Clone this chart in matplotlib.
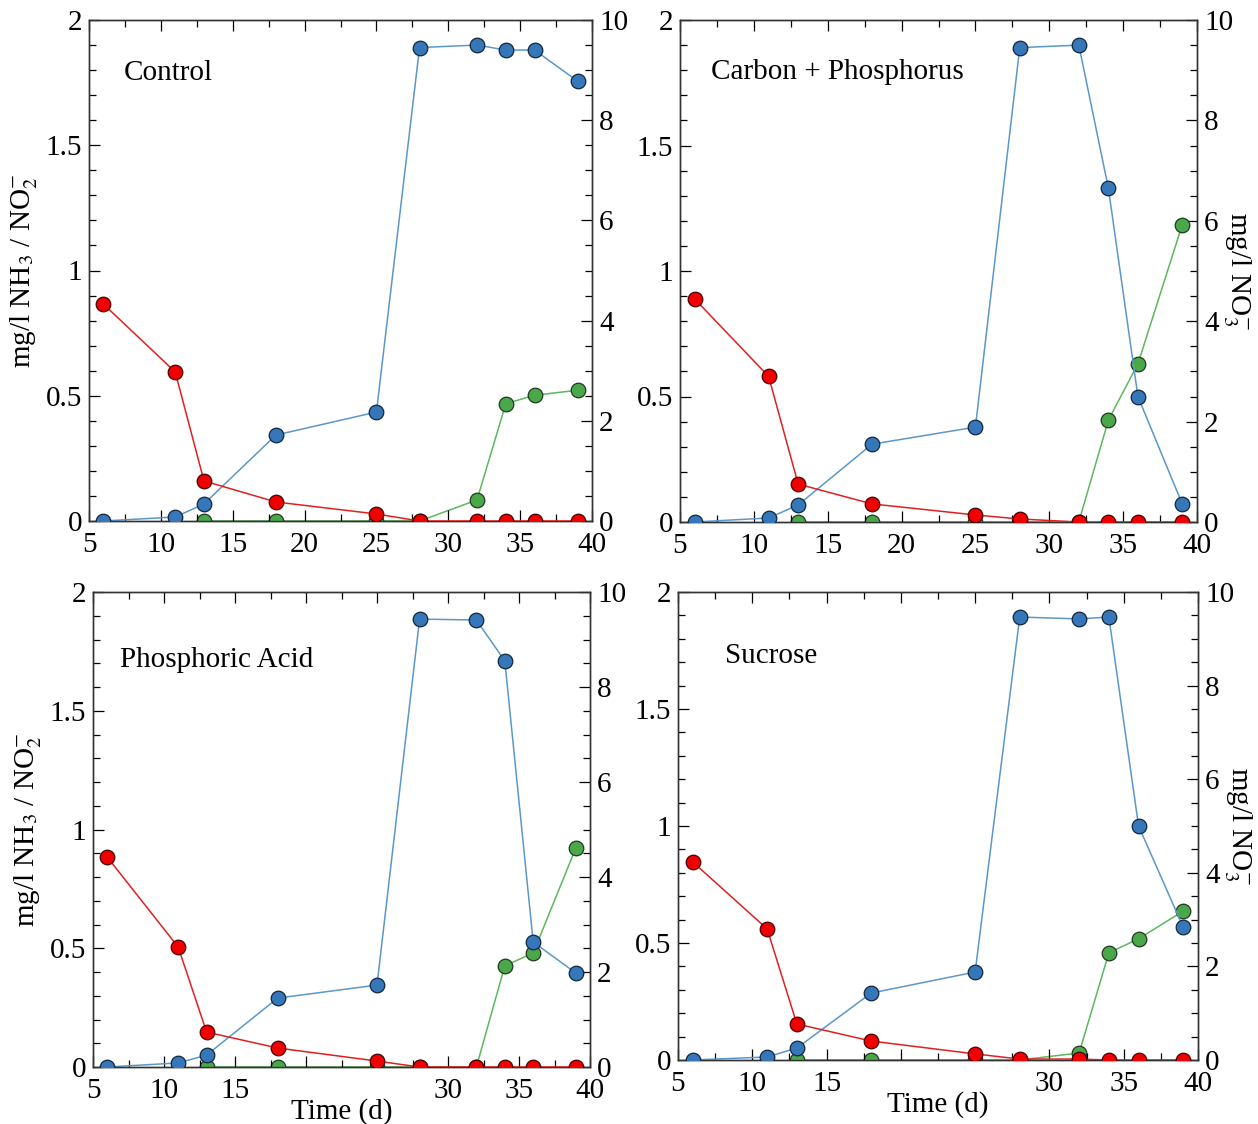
import matplotlib.pyplot as plt
from matplotlib.ticker import MultipleLocator

plt.rcParams['font.family'] = ['Liberation Serif', 'DejaVu Serif']
plt.rcParams['mathtext.fontset'] = 'stix'

# sampling days
days = [6, 11, 13, 18, 25, 28, 32, 34, 36, 39]
days_no3 = [13, 18, 25, 28, 32, 34, 36, 39]

titles = ['Control', 'Carbon + Phosphorus', 'Phosphoric Acid', 'Sucrose']

# NH3 (mg/l, left axis)
nh3_control = [0.866, 0.595, 0.16, 0.076, 0.028, 0, 0, 0, 0, 0]
nh3_carbon = [0.888, 0.58, 0.151, 0.072, 0.028, 0.012, 0, 0, 0, 0]
nh3_phos = [0.884, 0.505, 0.147, 0.08, 0.025, 0, 0, 0, 0, 0]
nh3_sucrose = [0.846, 0.56, 0.154, 0.081, 0.026, 0.004, 0.004, 0, 0, 0]

# NO2- (mg/l, left axis)
no2_control = [0, 0.016, 0.068, 0.343, 0.435, 1.89, 1.9, 1.88, 1.88, 1.756]
no2_carbon = [0, 0.016, 0.068, 0.31, 0.378, 1.89, 1.9, 1.33, 0.50, 0.072]
no2_phos = [0, 0.017, 0.05, 0.29, 0.345, 1.886, 1.882, 1.71, 0.526, 0.396]
no2_sucrose = [0, 0.013, 0.051, 0.286, 0.376, 1.893, 1.885, 1.893, 1.0, 0.568]

# NO3- (mg/l, right axis)
no3_control = [0, 0, 0, 0, 0.42, 2.34, 2.51, 2.61]
no3_carbon = [0, 0, 0, 0, 0, 2.03, 3.15, 5.92]
no3_phos = [0, 0, 0, 0, 0, 2.13, 2.4, 4.61]
no3_sucrose = [0, 0, 0, 0, 0.15, 2.29, 2.59, 3.18]

nh3_all = [nh3_control, nh3_carbon, nh3_phos, nh3_sucrose]
no2_all = [no2_control, no2_carbon, no2_phos, no2_sucrose]
no3_all = [no3_control, no3_carbon, no3_phos, no3_sucrose]

W, H = 1258, 1124
boxes = [(89, 20, 592, 521), (680, 20, 1197, 522),
         (93, 592, 590, 1067), (678, 592, 1198, 1060)]
title_pos = [(0.07, 0.894), (0.06, 0.896), (0.054, 0.857), (0.09, 0.863)]

fig = plt.figure(figsize=(W / 100, H / 100), dpi=100)
fs = 21

for i in range(4):
    x0, y0, x1, y1 = boxes[i]
    ax = fig.add_axes([x0 / W, 1 - y1 / H, (x1 - x0) / W, (y1 - y0) / H])
    ax2 = ax.twinx()
    ax.set_zorder(ax2.get_zorder() + 1)
    ax.patch.set_visible(False)

    ax2.plot(days_no3, no3_all[i], '-', color='#5cb85c', lw=1.1, zorder=2)
    ax2.plot(days_no3, no3_all[i], 'o', ms=10.5, mfc='#4aa84a', mec='#1e3a1e', mew=0.9, zorder=3)
    ax.plot(days, no2_all[i], '-', color='#5b97c9', lw=1.1, zorder=2)
    ax.plot(days, no2_all[i], 'o', ms=10.5, mfc='#3577b8', mec='#10263d', mew=0.9, zorder=3)
    ax.plot(days, nh3_all[i], '-', color='#e02020', lw=1.1, zorder=4)
    ax.plot(days, nh3_all[i], 'o', ms=10.5, mfc='#f00000', mec='#4a0000', mew=0.9, zorder=5)

    ax.set_xlim(5, 40)
    ax.set_ylim(0, 2)
    ax2.set_ylim(0, 10)
    ax.xaxis.set_major_locator(MultipleLocator(5))
    ax.xaxis.set_minor_locator(MultipleLocator(2.5))
    ax.yaxis.set_minor_locator(MultipleLocator(0.1))
    ax2.yaxis.set_major_locator(MultipleLocator(2))
    ax2.yaxis.set_minor_locator(MultipleLocator(0.5))
    ax.set_yticks([0, 0.5, 1, 1.5, 2])
    ax.set_yticklabels(['0', '0.5', '1', '1.5', '2'])

    ax.tick_params(axis='x', which='both', direction='in', top=True, labelsize=fs, pad=8)
    ax.tick_params(axis='y', which='both', direction='in', left=True, right=False, labelsize=fs, pad=5)
    ax2.tick_params(axis='y', which='both', direction='in', labelsize=fs, pad=5)
    for a in (ax, ax2):
        a.tick_params(which='major', length=8, width=0.9)
        a.tick_params(which='minor', length=5, width=0.9)
        for s in a.spines.values():
            s.set_linewidth(1.0)
            s.set_color('#333333')

    if i >= 2:
        ax.set_xticks([5, 10, 15, 20, 25, 30, 35, 40])
        ax.set_xticklabels(['5', '10', '15', '', '', '30', '35', '40'])
        ax.set_xlabel('Time (d)', fontsize=fs, labelpad=-4)
    if i % 2 == 0:
        ax.set_ylabel('mg/l NH$_3$ / NO$_2^{-}$', fontsize=fs, labelpad=4)
    else:
        ax2.set_ylabel('mg/l NO$_3^{-}$', fontsize=fs, rotation=270, va='center', ha='center')
        ax2.yaxis.set_label_coords(1.077, 0.5)

    ax.text(title_pos[i][0], title_pos[i][1], titles[i], transform=ax.transAxes,
            fontsize=fs, va='center', ha='left')

fig.savefig('out.png', dpi=100)
